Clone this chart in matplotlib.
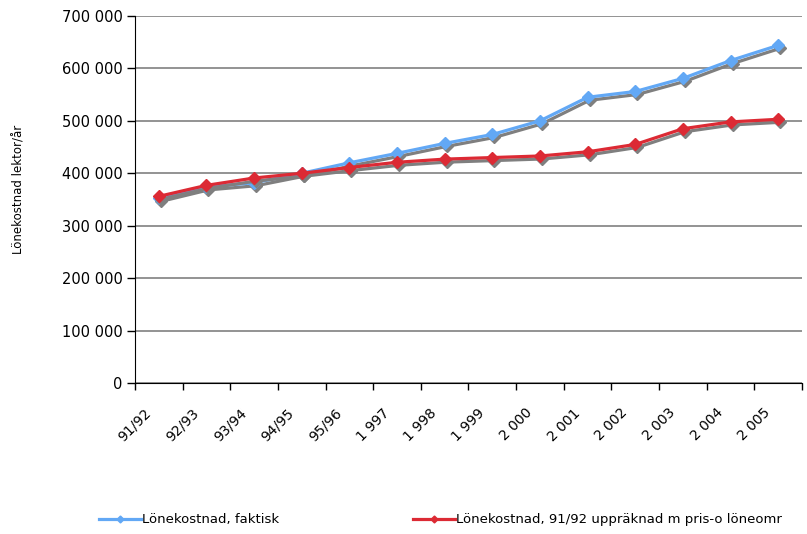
import matplotlib
matplotlib.use('Agg')
from matplotlib import pyplot as plt
from matplotlib import transforms
from matplotlib.lines import Line2D
from matplotlib.ticker import FuncFormatter

# data
kategorier = ["91/92", "92/93", "93/94", "94/95", "95/96", "1 997", "1 998", "1 999",
              "2 000", "2 001", "2 002", "2 003", "2 004", "2 005"]
faktisk = [352000, 374000, 382000, 400000, 420000, 438000, 457000, 474000,
           500000, 545000, 556000, 581000, 615000, 644000]
uppraknad = [356000, 377000, 391000, 400000, 411000, 421000, 427000, 430000,
             433000, 441000, 455000, 485000, 498000, 503000]

blue = '#62A8F5'
red = '#DC2A34'
shadow = '#7F7F7F'

plt.rcParams['font.family'] = 'DejaVu Sans'

fig = plt.figure(figsize=(8.07, 5.34), dpi=100)
ax = fig.add_axes([135/807, 1-383/534, (802-135)/807, (383-16)/534])

x = range(len(kategorier))
skugga = transforms.offset_copy(ax.transData, fig=fig, x=2, y=-3, units='dots')

# serie 1 med skugga
ax.plot(x, faktisk, color=shadow, lw=2.3, marker='D', ms=6, mec=shadow, transform=skugga, zorder=3)
ax.plot(x, faktisk, color=blue, lw=2.3, marker='D', ms=6, mec=blue, zorder=4)
# serie 2 med skugga
ax.plot(x, uppraknad, color=shadow, lw=2.3, marker='D', ms=6, mec=shadow, transform=skugga, zorder=5)
ax.plot(x, uppraknad, color=red, lw=2.3, marker='D', ms=6, mec=red, zorder=6)

# axlar
ax.set_xlim(-0.5, len(kategorier) - 0.5)
ax.set_ylim(0, 700000)
ax.set_yticks(range(0, 700001, 100000))
ax.yaxis.set_major_formatter(FuncFormatter(lambda v, p: f"{int(v):,}".replace(',', ' ')))
ax.set_xticks(list(x))
ax.set_xticklabels(kategorier, rotation=45, ha='right', va='center', rotation_mode='anchor')
ax.set_xticks([i - 0.5 for i in range(len(kategorier) + 1)], minor=True)
ax.tick_params(axis='x', which='major', length=0, pad=20, labelsize=10)
ax.tick_params(axis='x', which='minor', length=5, width=1, direction='out')
ax.tick_params(axis='y', length=6, width=1, labelsize=10.5, pad=3)

# flytta x-etiketterna lite åt vänster
forskjut = transforms.ScaledTranslation(-10/100, 0, fig.dpi_scale_trans)
for lab in ax.get_xticklabels():
    lab.set_transform(lab.get_transform() + forskjut)

ax.spines['top'].set_visible(False)
ax.spines['right'].set_visible(False)
ax.spines['left'].set_color('black')
ax.spines['bottom'].set_color('black')
ax.spines['bottom'].set_zorder(7)
ax.grid(axis='y', color='#808080', lw=1.2)
ax.set_axisbelow(True)

fig.text(19/807, 1-189/534, 'Lönekostnad lektor/år', rotation=90, ha='center', va='center', fontsize=8.5)

# legend
h1 = Line2D([], [], color=blue, lw=2.3, marker='D', ms=3.5)
h2 = Line2D([], [], color=red, lw=2.3, marker='D', ms=3.5)
fig.legend([h1], ['Lönekostnad, faktisk'], loc='center left', bbox_to_anchor=(92/807, 1-520/534),
           frameon=False, fontsize=9.5, borderpad=0, handlelength=3.2, handletextpad=0.1)
fig.legend([h2], ['Lönekostnad, 91/92 uppräknad m pris-o löneomr'], loc='center left',
           bbox_to_anchor=(406/807, 1-520/534),
           frameon=False, fontsize=9.5, borderpad=0, handlelength=3.2, handletextpad=0.1)

plt.savefig('out.png', dpi=100)
